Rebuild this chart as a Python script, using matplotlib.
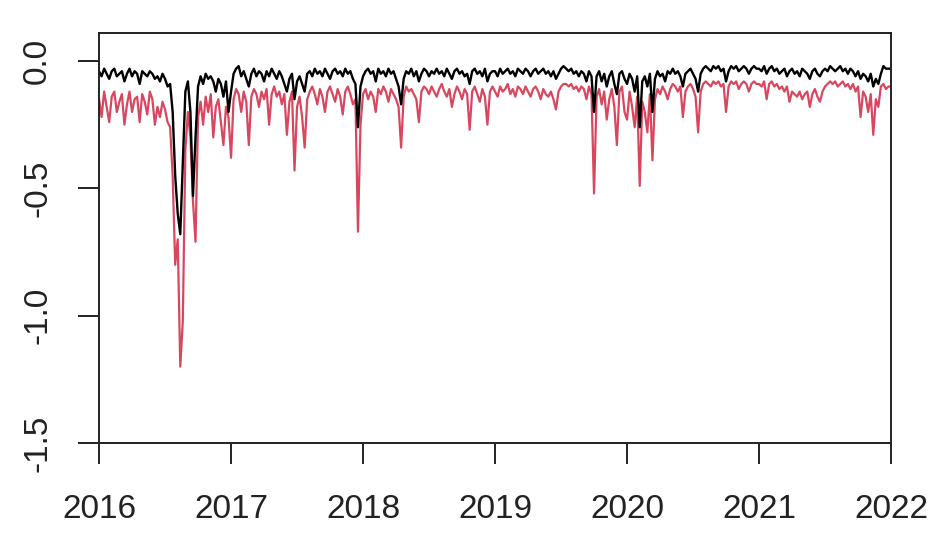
import numpy as np
import pandas as pd
import matplotlib
matplotlib.use("Agg")
import matplotlib.pyplot as plt

plt.rcParams['font.family'] = ['Liberation Sans', 'DejaVu Sans']

# weekly values, 52 per year, plus the closing value at 2022-01-01
black_2016 = [-0.04, -0.06, -0.03, -0.05, -0.07, -0.04, -0.03, -0.06, -0.05, -0.04,
              -0.08, -0.05, -0.03, -0.06, -0.04, -0.05, -0.09, -0.04, -0.05, -0.06,
              -0.04, -0.05, -0.07, -0.06, -0.08, -0.05, -0.07, -0.10, -0.09, -0.20,
              -0.45, -0.60, -0.68, -0.40, -0.12, -0.08, -0.20, -0.53, -0.30, -0.10,
              -0.06, -0.09, -0.05, -0.07, -0.06, -0.08, -0.12, -0.07, -0.09, -0.14,
              -0.08, -0.20]
black_2017 = [-0.12, -0.05, -0.03, -0.02, -0.06, -0.04, -0.07, -0.10, -0.05, -0.03,
              -0.06, -0.04, -0.05, -0.08, -0.04, -0.06, -0.03, -0.05, -0.07, -0.04,
              -0.06, -0.09, -0.12, -0.07, -0.05, -0.15, -0.08, -0.06, -0.09, -0.12,
              -0.05, -0.04, -0.06, -0.03, -0.05, -0.04, -0.06, -0.03, -0.05, -0.07,
              -0.04, -0.03, -0.05, -0.04, -0.06, -0.03, -0.05, -0.04, -0.07, -0.09,
              -0.26, -0.10]
black_2018 = [-0.06, -0.04, -0.03, -0.05, -0.04, -0.08, -0.03, -0.05, -0.04, -0.06,
              -0.03, -0.05, -0.04, -0.07, -0.10, -0.17, -0.07, -0.04, -0.05, -0.03,
              -0.06, -0.04, -0.08, -0.05, -0.03, -0.04, -0.06, -0.04, -0.05, -0.03,
              -0.05, -0.04, -0.06, -0.03, -0.05, -0.07, -0.04, -0.03, -0.05, -0.04,
              -0.06, -0.05, -0.09, -0.04, -0.03, -0.05, -0.04, -0.06, -0.03, -0.08,
              -0.05, -0.04]
black_2019 = [-0.04, -0.06, -0.03, -0.05, -0.04, -0.03, -0.05, -0.04, -0.06, -0.03,
              -0.04, -0.05, -0.03, -0.04, -0.06, -0.04, -0.03, -0.05, -0.04, -0.03,
              -0.05, -0.04, -0.06, -0.04, -0.07, -0.05, -0.03, -0.02, -0.03, -0.04,
              -0.03, -0.05, -0.04, -0.06, -0.04, -0.05, -0.08, -0.04, -0.06, -0.20,
              -0.06, -0.04, -0.08, -0.05, -0.10, -0.06, -0.04, -0.09, -0.13, -0.05,
              -0.04, -0.07]
black_2020 = [-0.09, -0.05, -0.07, -0.12, -0.06, -0.26, -0.08, -0.06, -0.10, -0.05,
              -0.20, -0.07, -0.04, -0.06, -0.05, -0.08, -0.04, -0.05, -0.03, -0.05,
              -0.04, -0.06, -0.10, -0.05, -0.04, -0.03, -0.05, -0.07, -0.12, -0.05,
              -0.03, -0.02, -0.03, -0.04, -0.02, -0.03, -0.02, -0.04, -0.03, -0.08,
              -0.04, -0.02, -0.03, -0.02, -0.04, -0.03, -0.02, -0.03, -0.05, -0.03,
              -0.02, -0.03]
black_2021 = [-0.03, -0.04, -0.02, -0.05, -0.03, -0.02, -0.04, -0.03, -0.05, -0.04,
              -0.03, -0.06, -0.04, -0.03, -0.05, -0.04, -0.06, -0.03, -0.04, -0.05,
              -0.07, -0.04, -0.03, -0.05, -0.06, -0.04, -0.03, -0.04, -0.02, -0.03,
              -0.04, -0.03, -0.02, -0.04, -0.03, -0.05, -0.03, -0.04, -0.06, -0.04,
              -0.07, -0.05, -0.06, -0.08, -0.05, -0.10, -0.07, -0.09, -0.05, -0.02,
              -0.03, -0.03, -0.03]

red_2016 = [-0.15, -0.22, -0.12, -0.18, -0.24, -0.14, -0.12, -0.20, -0.16, -0.13,
            -0.25, -0.17, -0.12, -0.20, -0.15, -0.14, -0.24, -0.13, -0.16, -0.21,
            -0.12, -0.15, -0.25, -0.18, -0.22, -0.16, -0.19, -0.24, -0.26, -0.45,
            -0.80, -0.70, -1.20, -1.02, -0.35, -0.20, -0.30, -0.55, -0.71, -0.22,
            -0.16, -0.25, -0.14, -0.20, -0.13, -0.30, -0.18, -0.15, -0.24, -0.33,
            -0.18, -0.22]
red_2017 = [-0.38, -0.15, -0.11, -0.13, -0.20, -0.12, -0.16, -0.33, -0.14, -0.11,
            -0.13, -0.18, -0.12, -0.15, -0.11, -0.25, -0.13, -0.10, -0.14, -0.12,
            -0.17, -0.13, -0.29, -0.16, -0.12, -0.43, -0.18, -0.14, -0.22, -0.34,
            -0.15, -0.12, -0.10, -0.13, -0.17, -0.11, -0.14, -0.20, -0.12, -0.10,
            -0.13, -0.16, -0.11, -0.14, -0.21, -0.12, -0.10, -0.13, -0.17, -0.15,
            -0.67, -0.25]
red_2018 = [-0.13, -0.11, -0.15, -0.12, -0.14, -0.20, -0.11, -0.13, -0.10, -0.12,
            -0.16, -0.11, -0.13, -0.15, -0.18, -0.34, -0.14, -0.10, -0.12, -0.11,
            -0.13, -0.15, -0.24, -0.12, -0.10, -0.11, -0.13, -0.10, -0.12, -0.14,
            -0.11, -0.09, -0.12, -0.14, -0.11, -0.18, -0.13, -0.10, -0.12, -0.15,
            -0.11, -0.13, -0.27, -0.12, -0.10, -0.13, -0.16, -0.11, -0.14, -0.25,
            -0.12, -0.10]
red_2019 = [-0.12, -0.14, -0.10, -0.12, -0.11, -0.09, -0.13, -0.11, -0.14, -0.10,
            -0.11, -0.13, -0.10, -0.12, -0.14, -0.11, -0.10, -0.12, -0.15, -0.11,
            -0.13, -0.14, -0.12, -0.15, -0.19, -0.12, -0.10, -0.09, -0.09, -0.10,
            -0.09, -0.11, -0.10, -0.12, -0.10, -0.11, -0.15, -0.10, -0.13, -0.52,
            -0.14, -0.11, -0.17, -0.12, -0.23, -0.15, -0.11, -0.18, -0.33, -0.12,
            -0.10, -0.20]
red_2020 = [-0.23, -0.12, -0.18, -0.26, -0.14, -0.49, -0.16, -0.20, -0.28, -0.13,
            -0.39, -0.15, -0.11, -0.13, -0.10, -0.12, -0.15, -0.11, -0.09, -0.10,
            -0.12, -0.10, -0.22, -0.12, -0.10, -0.09, -0.11, -0.14, -0.28, -0.12,
            -0.09, -0.08, -0.09, -0.10, -0.08, -0.09, -0.08, -0.10, -0.09, -0.20,
            -0.10, -0.08, -0.09, -0.08, -0.11, -0.09, -0.08, -0.09, -0.12, -0.09,
            -0.08, -0.09]
red_2021 = [-0.09, -0.10, -0.08, -0.15, -0.09, -0.08, -0.10, -0.09, -0.11, -0.10,
            -0.12, -0.10, -0.16, -0.12, -0.13, -0.14, -0.12, -0.15, -0.13, -0.12,
            -0.18, -0.13, -0.11, -0.14, -0.16, -0.12, -0.10, -0.09, -0.08, -0.09,
            -0.08, -0.10, -0.09, -0.08, -0.10, -0.09, -0.11, -0.09, -0.12, -0.10,
            -0.22, -0.12, -0.14, -0.20, -0.13, -0.29, -0.15, -0.18, -0.10, -0.09,
            -0.11, -0.10, -0.10]

black = black_2016 + black_2017 + black_2018 + black_2019 + black_2020 + black_2021
red = red_2016 + red_2017 + red_2018 + red_2019 + red_2020 + red_2021
dates = pd.date_range("2016-01-01", "2022-01-01", periods=len(black))

years = [2016, 2017, 2018, 2019, 2020, 2021, 2022]
yticks = [0.0, -0.5, -1.0, -1.5]
ytick_labels = ["0.0", "-0.5", "-1.0", "-1.5"]

fig = plt.figure(figsize=(9.46, 5.45), dpi=100)
ax = fig.add_axes([0.1047, 0.1872, 0.8372, 0.7522])

ax.plot(dates, red, color="#D9475F", lw=1.6)
ax.plot(dates, black, color="black", lw=1.7)

ax.set_xlim(pd.Timestamp("2016-01-01"), pd.Timestamp("2022-01-01"))
ax.set_ylim(-1.5, 0.11)
ax.set_xticks([pd.Timestamp(f"{y}-01-01") for y in years])
ax.set_xticklabels([str(y) for y in years])
ax.set_yticks(yticks)
ax.set_yticklabels(ytick_labels, rotation=90, va="center")

for s in ax.spines.values():
    s.set_linewidth(1.4)
    s.set_color("#222222")
ax.tick_params(axis="both", length=15, width=1.4, labelsize=24, colors="#222222")
ax.tick_params(axis="x", pad=22)
ax.tick_params(axis="y", pad=18)

fig.savefig("out.png", dpi=100)
